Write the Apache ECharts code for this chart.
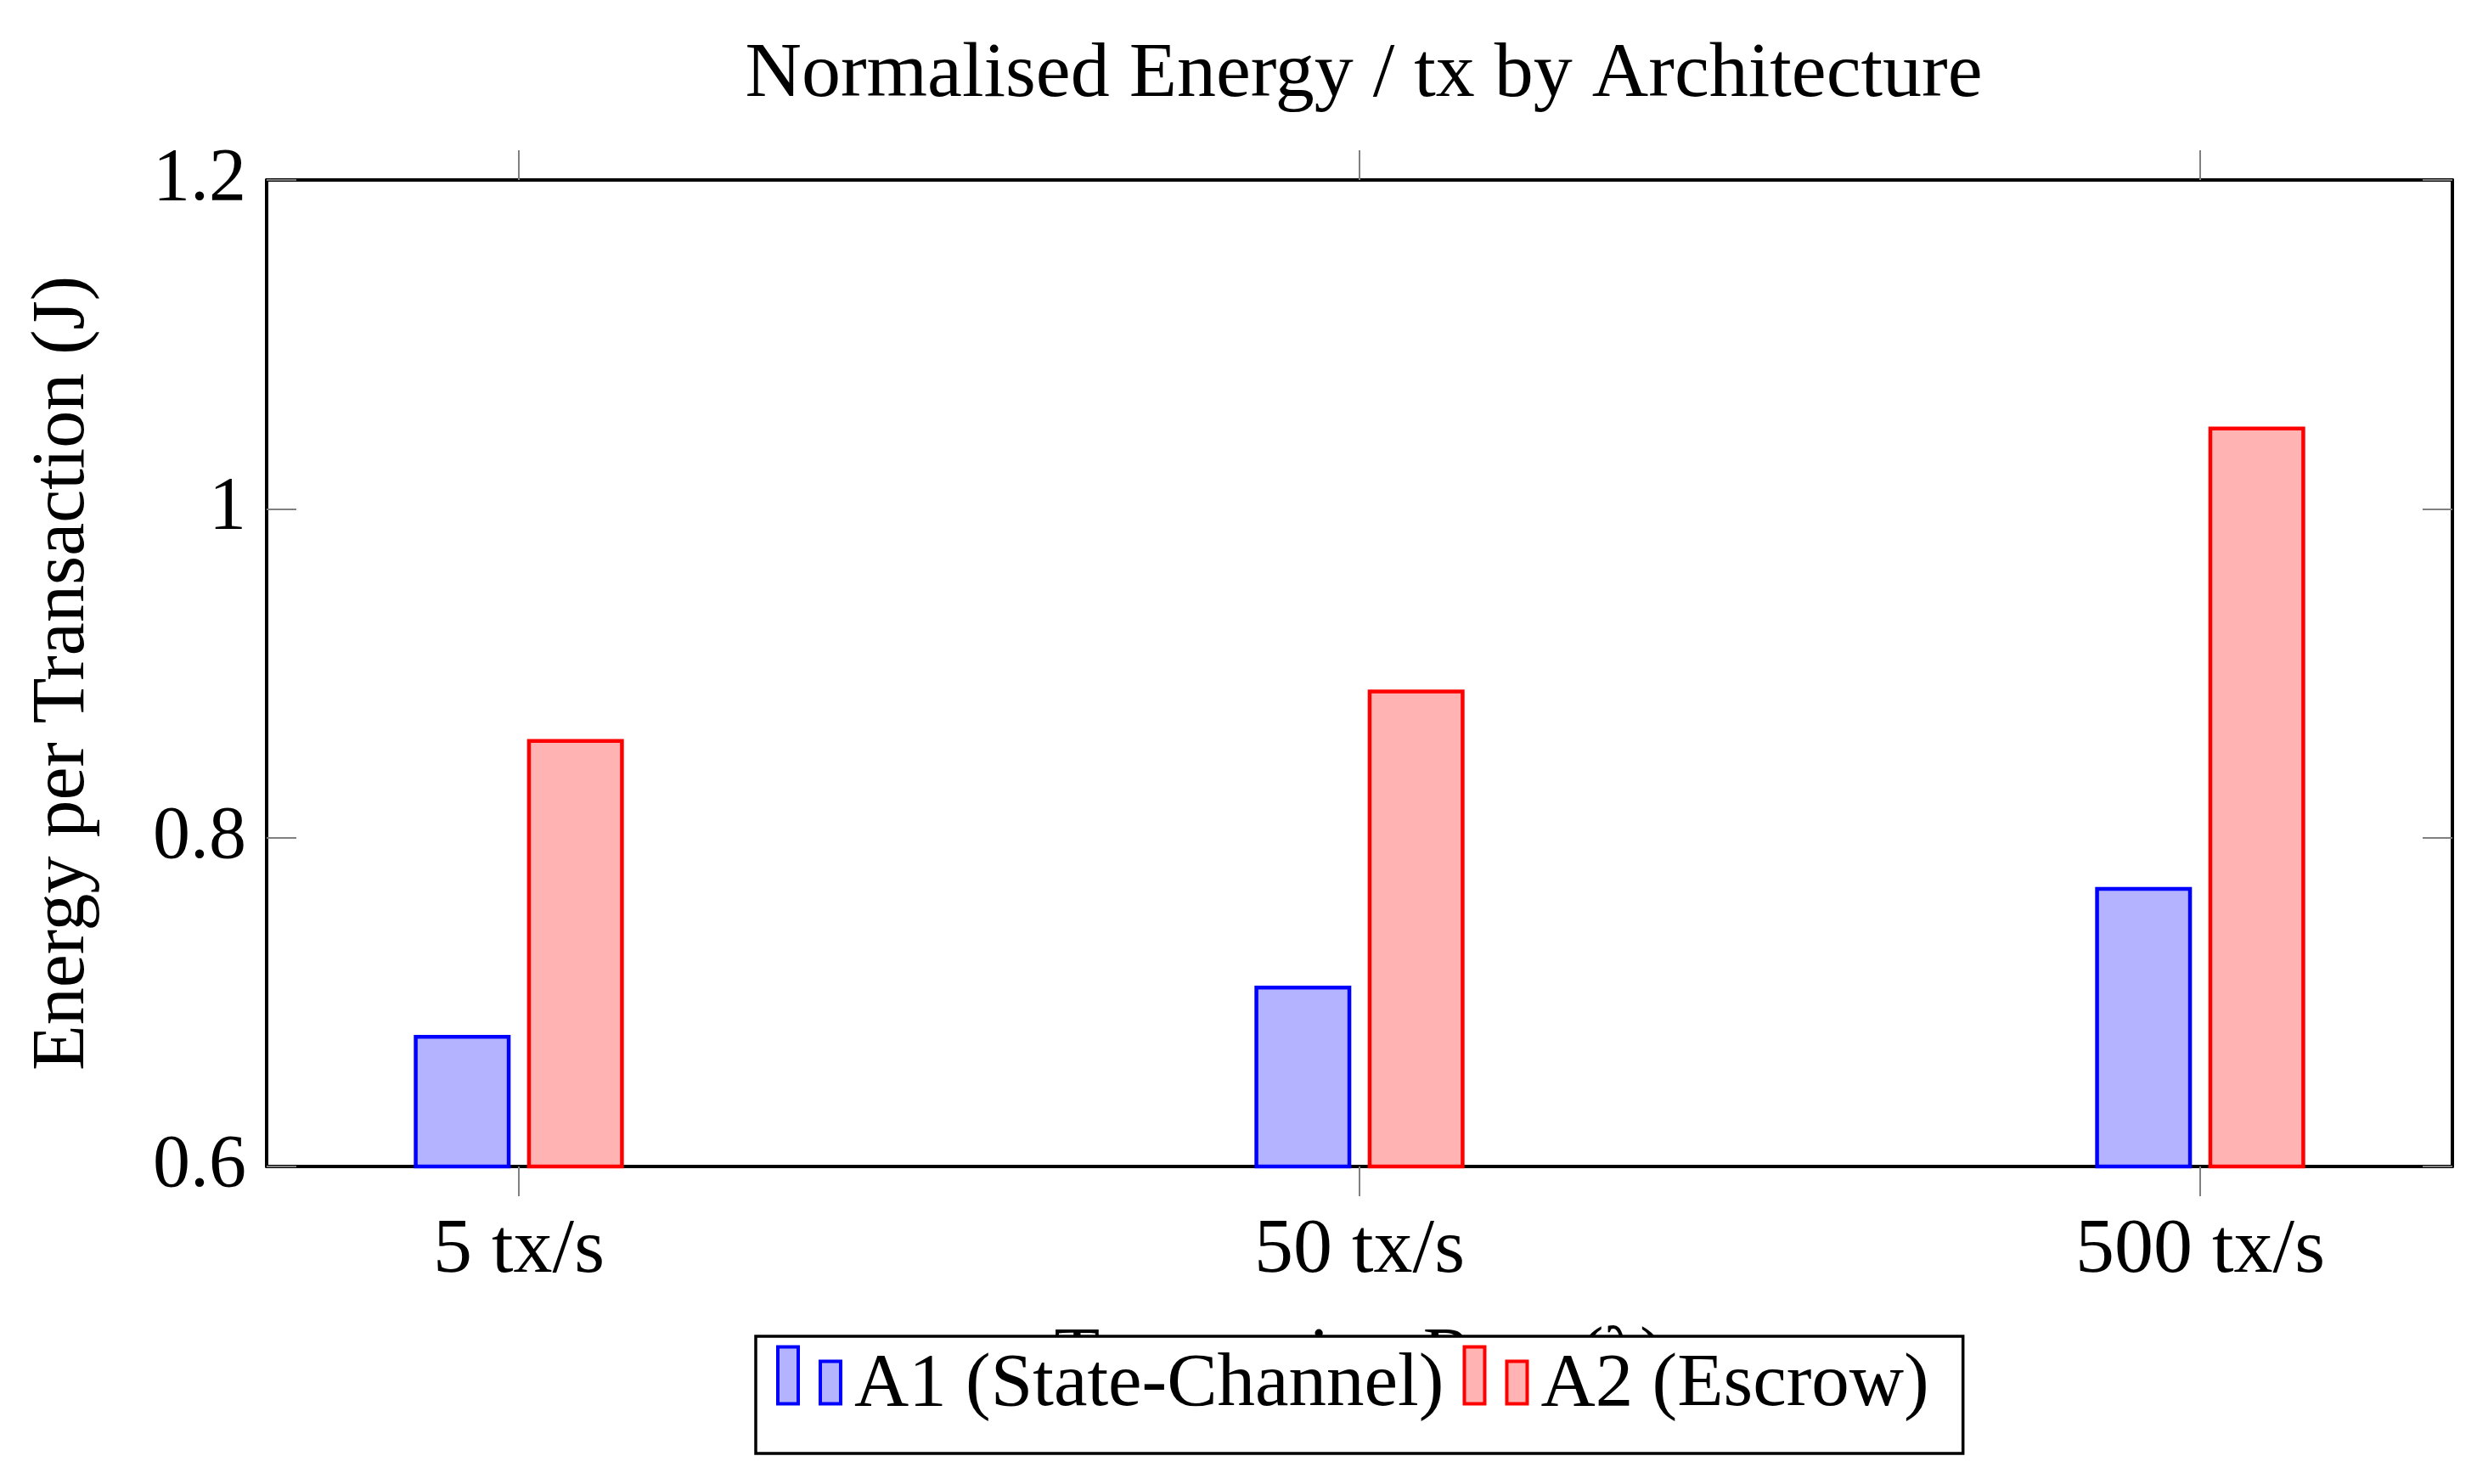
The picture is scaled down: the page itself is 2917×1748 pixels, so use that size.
<!DOCTYPE html>
<html>
<head>
<meta charset="utf-8">
<style>
html,body{margin:0;padding:0;background:#fff;}
#chart{width:2917px;height:1748px;}
</style>
<script src="https://cdn.jsdelivr.net/npm/echarts@6/dist/echarts.min.js"></script>
</head>
<body>
<div id="chart"></div>
<script>
const categories = ['5 tx/s', '50 tx/s', '500 tx/s'];
const a1Values = [0.68, 0.71, 0.77];
const a2Values = [0.86, 0.89, 1.05];
const seriesNames = ['A1 (State-Channel)', 'A2 (Escrow)'];
const yTickValues = [0.6, 0.8, 1, 1.2];

const FONT = 'Liberation Serif';
const catPositions = categories.map((c, i) => i);
const tickStyle = { color: '#808080', width: 2 };
const frameLine = { show: true, onZero: false, lineStyle: { color: '#000', width: 4 } };

const chart = echarts.init(document.getElementById('chart'));
// two small bars (pgfplots ybar legend); trailing moveTo extends the box downward
const legendIcon = 'path://M0,0 M2,2 h24 v67 h-24 z M52,19 h24 v50 h-24 z M0,95';

const option = {
  backgroundColor: '#fff',
  animation: false,
  title: {
    text: 'Normalised Energy / tx by Architecture',
    left: 1601,
    textAlign: 'center',
    top: 38,
    textStyle: { fontFamily: FONT, fontSize: 92, fontWeight: 'normal', color: '#000' }
  },
  grid: {
    left: 314, right: 29, top: 212, bottom: 374, show: false
  },
  legend: {
    left: 890, top: 1574,
    orient: 'horizontal',
    backgroundColor: '#fff',
    borderColor: '#000', borderWidth: 3.5, borderRadius: 0,
    padding: [4, 40, 26, 22],
    itemWidth: 78, itemHeight: 95, itemGap: 20,
    icon: legendIcon,
    itemStyle: { borderWidth: 4 },
    textStyle: { fontFamily: FONT, fontSize: 89, color: '#000', padding: [10, 0, 0, 10], lineHeight: 98 },
    data: seriesNames
  },
  xAxis: [{
    type: 'value', min: -0.3, max: 2.3, position: 'bottom',
    axisLine: frameLine, splitLine: { show: false },
    axisTick: { show: true, customValues: catPositions, length: 35, inside: false, lineStyle: tickStyle },
    axisLabel: {
      customValues: catPositions,
      formatter: v => categories[Math.round(v)],
      fontFamily: FONT, fontSize: 92, color: '#000', margin: 54
    },
    name: 'Transaction Rate (λ)', nameLocation: 'middle', nameGap: 183,
    nameTextStyle: { fontFamily: FONT, fontSize: 88, color: '#000' }
  }, {
    type: 'value', min: -0.3, max: 2.3, position: 'top',
    axisLine: frameLine, splitLine: { show: false },
    axisTick: { show: true, customValues: catPositions, length: 35, inside: false, lineStyle: tickStyle },
    axisLabel: { show: false }
  }],
  yAxis: [{
    type: 'value', min: 0.6, max: 1.2, interval: 0.2, position: 'left',
    axisLine: frameLine, splitLine: { show: false },
    axisTick: { show: true, inside: true, length: 35, lineStyle: tickStyle },
    axisLabel: { fontFamily: FONT, fontSize: 88, color: '#000', margin: 24,
      customValues: yTickValues },
    name: 'Energy per Transaction (J)', nameLocation: 'middle', nameGap: 195, nameRotate: 90,
    nameTextStyle: { fontFamily: FONT, fontSize: 88, color: '#000' }
  }, {
    type: 'value', min: 0.6, max: 1.2, interval: 0.2, position: 'right',
    axisLine: frameLine, splitLine: { show: false },
    axisTick: { show: true, inside: true, length: 35, lineStyle: tickStyle },
    axisLabel: { show: false }
  }],
  series: [{
    name: seriesNames[0], type: 'bar', xAxisIndex: 0, yAxisIndex: 0,
    barWidth: 114, barGap: '17%',
    itemStyle: { color: '#b3b3ff', borderColor: '#0000ff', borderWidth: 4.5 },
    data: catPositions.map(i => [i, a1Values[i]])
  }, {
    name: seriesNames[1], type: 'bar', xAxisIndex: 0, yAxisIndex: 0,
    barWidth: 114, barGap: '17%',
    itemStyle: { color: '#ffb3b3', borderColor: '#ff0000', borderWidth: 4.5 },
    data: catPositions.map(i => [i, a2Values[i]])
  }]
};
chart.setOption(option);
</script>
</body>
</html>
